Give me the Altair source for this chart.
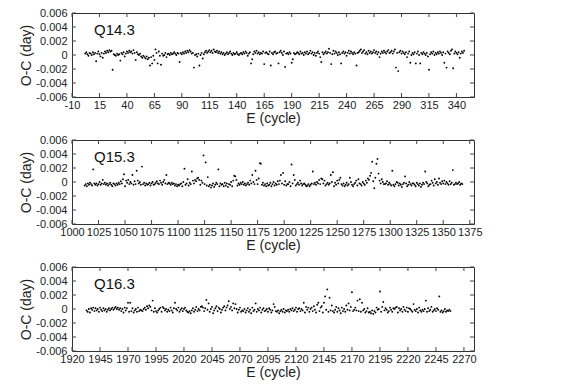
import altair as alt
import pandas as pd

# O-C values in units of 1e-4 day, one per cycle starting at the given E
p1_start = 2
p1_vals = [
    2, 4, 1, -1, 3, 2, 0, 4, 1, 3,
    -9, 2, 5, 1, -2, 3, -4, 2, 5, 3,
    6, 4, 7, 5, 6, -21, 1, 0, -1, 2,
    0, 1, -8, 3, 1, 4, -2, 2, 5, 3,
    6, 4, 5, 2, 7, 3, -7, 4, 1, 0,
    2, -2, -4, -1, -3, -5, -2, -6, -4, -15,
    -3, -12, -1, -7, 8, 3, -12, 5, -1, -14,
    2, -1, 0, 3, -3, 1, 2, 0, 3, 1,
    2, 4, 2, 0, 3, 2, -10, 3, 1, 4,
    2, 5, 3, 6, 4, 7, 5, 2, 3, -18,
    0, 1, -2, 2, -15, 0, 3, -5, 1, 4,
    6, 3, 5, 7, 4, 6, 3, 8, 5, 4,
    6, 3, 5, 2, 4, 1, 3, 0, 2, 4,
    1, 3, 5, 2, 0, 3, 1, 2, 4, 1,
    0, 2, 3, 1, 4, 2, 5, 3, -1, 2,
    4, -12, -6, 1, 5, 3, 6, 2, 4, 1,
    3, 2, 5, -13, 3, 4, 2, 1, 5, -15,
    3, 1, 4, 5, 2, 3, -12, 4, 6, 3,
    0, 5, -17, 2, 3, 1, 4, 2, -11, -6,
    3, 1, 2, 4, 3, 1, 5, 2, 3, 0,
    4, 2, 5, 1, 3, 6, 2, 4, 0, 3,
    -1, 3, 5, 2, -3, -10, 4, 1, 3, 5,
    2, 4, 9, 3, -13, 1, 6, 2, 5, 3,
    0, 4, 1, -12, 3, 5, 2, 4, -1, 3,
    6, 2, 5, 3, 1, 4, 2, -15, 3, 4,
    6, 8, 3, 5, 7, 2, 4, 1, 6, 3,
    5, 2, 4, 7, 3, 5, 1, 4, -3, 2,
    5, 3, 6, 4, 2, 5, 7, 3, 4, 6,
    2, 5, 8, -18, 3, -23, 4, 6, 2, 5,
    3, 1, 4, -3, 2, 5, -11, 0, 3, 1,
    4, -12, 2, 5, 0, -12, 3, 1, 4, 2,
    0, 3, -2, -21, 1, 4, 2, 5, 0, 3,
    1, 4, 2, 5, 3, 0, 4, -11, 2, -18,
    5, 3, 1, 6, 8, -19, 2, 5, 3, 1,
    4, -4, 2, 5, 3, 6,
]

p2_start = 1012
p2_vals = [
    -5, -3, -6, -2, -4, -1, -3, -5, 18, -2,
    -4, -2, -5, -3, 0, -4, -2, 3, -3, -1,
    -4, -2, -5, -3, -1, -4, -6, -2, -3, -5,
    -2, -4, -1, -3, 1, -2, 4, 11, -6, 2,
    -1, 3, -3, 0, -2, 10, -4, 1, -3, 16,
    2, -2, 0, -4, 22, -3, -1, -5, -2, -4,
    -3, -1, -5, -2, 0, -4, -3, -1, 1, -2,
    -3, 2, -1, -4, 0, 3, -2, 10, -3, -1,
    -2, -4, -1, -3, -2, -5, -3, -6, -4, -5,
    -3, -2, -6, 0, 19, -4, -2, 4, -5, -1,
    -3, 15, 2, -2, 3, 1, 5, 6, 3, -4,
    2, -1, 38, -3, 28, -5, 7, -6, -4, -8,
    -5, -2, -7, -4, -1, -3, 18, -6, -2, -4,
    -3, -6, -1, -5, -2, -7, -3, -4, 0, -6,
    2, 9, 8, 3, -5, -2, -4, -1, -3, 0,
    -4, -2, -5, -3, -1, -4, 2, -2, 10, 0,
    -3, 16, 3, -3, 5, 27, 26, -4, -1, -5,
    -3, -6, -2, -5, -4, -1, -6, -3, 0, -5,
    -2, -4, 1, -3, 2, 10, -2, 13, -4, 1,
    -5, -3, -3, 0, -6, 25, -2, 10, 3, -5,
    -3, -1, -4, 2, -2, -5, -3, -2, -4, -6,
    -5, -3, -6, -4, -2, 15, -3, -1, -4, 0,
    -2, 3, -3, 5, 4, -2, 2, -5, -3, -1,
    -4, -2, 10, 0, 14, -6, -1, -4, 2, -2,
    3, 6, -3, -5, -2, -6, -4, -1, -5, -3,
    6, 0, -4, -6, -3, -1, 2, -5, 4, -2,
    -3, -5, 0, -2, -4, 2, -1, 5, 3, 9,
    13, 29, 1, -9, 6, 26, 33, 12, 2, -2,
    4, 0, -3, -3, -2, 1, -4, -1, -3, -5,
    16, -4, -6, -3, 0, -1, -5, -2, -4, -7,
    -3, -1, 8, -2, -6, -4, 0, -3, -5, -2,
    -2, -4, -6, -1, -3, -5, -2, -7, -4, -1,
    -3, 15, 0, -2, -6, -4, -3, 2, -1, -5,
    4, -2, 0, -4, 5, -1, -3, 1, -2, 2,
    -3, 0, -2, -4, 1, -3, -1, 17, -4, -3,
    -1, -3, -2, 0, -4, -2, -3,
]

p3_start = 1933
p3_vals = [
    -2, -4, 0, -5, 1, -1, 2, -3, 1, -2,
    0, -4, 2, -1, -3, 1, -2, 0, -4, -1,
    1, -2, 0, 2, -1, 1, 3, 0, 2, -1,
    1, -3, 0, -5, 2, -2, 1, 9, -4, 9,
    -3, 1, -5, -2, 0, -4, 2, -3, -1, -2,
    -3, 0, 2, -1, 4, 1, 5, 3, -2, 12,
    -4, 1, -3, -5, -2, 0, 2, -4, 3, 1,
    -2, 0, -4, -1, -3, 2, -2, -5, 1, 9,
    0, -2, 2, -4, -1, 1, -3, 0, 2, -2,
    -4, -5, -3, -6, -2, 1, -4, -1, 3, -3,
    0, -2, 3, 4, 2, -3, 1, 13, -1, 8,
    -4, 0, 3, -6, -2, 1, 4, -3, 2, 0,
    -5, -1, 2, 4, -2, 2, 5, 11, 0, 3,
    -2, 8, 1, 7, 0, -5, -1, 2, -4, -2,
    -3, 0, -5, -2, 1, -4, -1, -6, 2, -3,
    -1, 8, -4, 0, -2, 2, -5, -1, 1, -3,
    -2, 0, -4, 1, -1, -5, -2, 7, 3, -3,
    -4, -2, -6, -3, -1, -4, 0, -5, -2, -3,
    -1, -4, 0, -2, 1, -3, -1, 2, -4, 0,
    1, -3, 0, -2, 9, -5, 3, -1, 2, -4,
    0, 2, -3, 4, -1, -5, 6, 9, -3, 2,
    4, -5, 9, 18, -1, 28, -4, 16, -2, 5,
    -3, -5, -1, 3, -4, 1, -2, -6, 2, -3,
    0, -4, 5, -1, 8, -2, 3, 24, -3, -1,
    2, -2, 12, -3, 14, -4, 9, -2, 0, -5,
    -3, 1, -5, -4, -6, -2, -7, -3, -5, 2,
    -1, 0, 25, -4, 3, 10, -2, 1, -1, -5,
    -3, 2, -1, -4, 1, 0, 2, 3, -5, 1,
    -2, 0, -4, 3, -1, -3, 2, -4, 1, 0,
    -2, -4, 7, -1, -3, 0, -5, 2, -2, -4,
    -1, -3, 0, 12, -4, 1, -3, -1, 3, -4,
    -2, 0, -3, 1, -1, 18, -4, -2, -5, -3,
    0, -4, -2, -3, -1, -3,
]

labels = ["Q14.3", "Q15.3", "Q16.3"]
x_domains = [[-10, 356], [1000, 1379], [1920, 2279]]
x_ticks = [
    [-10, 15, 40, 65, 90, 115, 140, 165, 190, 215, 240, 265, 290, 315, 340],
    [1000, 1025, 1050, 1075, 1100, 1125, 1150, 1175, 1200, 1225, 1250, 1275, 1300, 1325, 1350, 1375],
    [1920, 1945, 1970, 1995, 2020, 2045, 2070, 2095, 2120, 2145, 2170, 2195, 2220, 2245, 2270],
]
y_ticks = [-0.006, -0.004, -0.002, 0, 0.002, 0.004, 0.006]

W, H = 402, 84
FONT = "Liberation Sans"
TXT = "#222222"
TICK = "#444444"


def panel(start, vals, dom, xt, label):
    df = pd.DataFrame({"E": list(range(start, start + len(vals))),
                       "OC": [v * 1e-4 for v in vals]})
    xs = alt.Scale(domain=dom, nice=False, zero=False)
    ys = alt.Scale(domain=[-0.006, 0.006], nice=False, zero=False)
    xax = alt.Axis(values=xt, title="E (cycle)", ticks=False, domain=False, grid=False,
                   labelExpr="toString(datum.value)", labelPadding=2, titlePadding=1,
                   labelFlush=False, labelOverlap=False)
    yax = alt.Axis(values=y_ticks, title="O-C (day)", ticks=False, domain=False, grid=False,
                   labelExpr="toString(datum.value)", labelPadding=5, titlePadding=2,
                   labelFlush=False, labelOverlap=False)
    X = alt.X("E:Q", scale=xs, axis=xax)
    Y = alt.Y("OC:Q", scale=ys, axis=yax)
    pts = alt.Chart(df).mark_circle(size=3.5, color="black", opacity=1).encode(x=X, y=Y)
    xtd = pd.DataFrame({"E": xt})
    ytd = pd.DataFrame({"OC": y_ticks})
    xb = alt.Chart(xtd).mark_rule(color=TICK, strokeWidth=1).encode(
        x=X, y=alt.value(H), y2=alt.value(H - 4))
    xtop = alt.Chart(xtd).mark_rule(color=TICK, strokeWidth=1).encode(
        x=X, y=alt.value(0), y2=alt.value(4))
    yl = alt.Chart(ytd).mark_rule(color=TICK, strokeWidth=1).encode(
        y=Y, x=alt.value(0), x2=alt.value(4))
    yr = alt.Chart(ytd).mark_rule(color=TICK, strokeWidth=1).encode(
        y=Y, x=alt.value(W), x2=alt.value(W - 4))
    txt = alt.Chart(pd.DataFrame({"t": [label]})).mark_text(
        align="left", baseline="middle", fontSize=15, font=FONT, color="#111111"
    ).encode(x=alt.value(22), y=alt.value(17), text="t:N")
    return alt.layer(pts, xb, xtop, yl, yr, txt).properties(width=W, height=H)


panels = [
    panel(p1_start, p1_vals, x_domains[0], x_ticks[0], labels[0]),
    panel(p2_start, p2_vals, x_domains[1], x_ticks[1], labels[1]),
    panel(p3_start, p3_vals, x_domains[2], x_ticks[2], labels[2]),
]

chart = alt.vconcat(*panels, spacing=43, bounds="flush").properties(
    padding={"left": 11, "top": -2, "right": 5, "bottom": 2},
).configure_view(stroke="#333333", strokeWidth=1).configure_axis(
    labelFont=FONT, titleFont=FONT, labelFontSize=11, titleFontSize=14,
    labelColor=TXT, titleColor=TXT, titleFontWeight="normal"
)

chart.save("out.html", embed_options={"renderer": "svg", "actions": False})
